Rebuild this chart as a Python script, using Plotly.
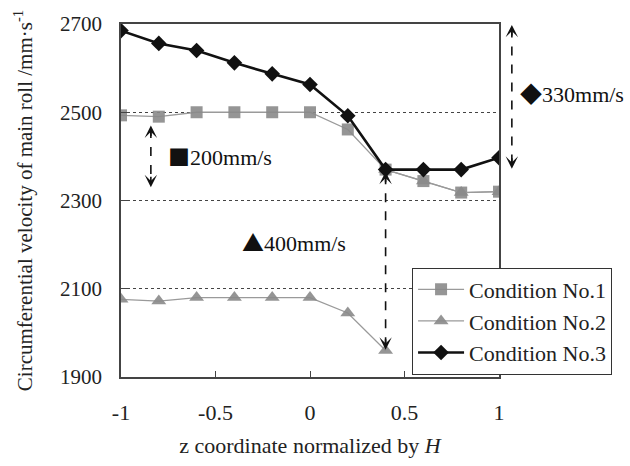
import plotly.graph_objects as go

# z coordinate normalised by H
z = [-1.0, -0.8, -0.6, -0.4, -0.2, 0.0, 0.2, 0.4, 0.6, 0.8, 1.0]

# circumferential velocity of main roll (mm/s)
cond1 = [2493, 2490, 2500, 2500, 2500, 2500, 2461, 2370, 2344, 2318, 2320]
cond2_z = [-1.0, -0.8, -0.6, -0.4, -0.2, 0.0, 0.2, 0.4, None, 0.4, 0.6, 0.8, 1.0]
cond2 = [2076, 2072, 2080, 2080, 2080, 2080, 2045, 1960, None, 2370, 2344, 2318, 2320]
cond3 = [2685, 2656, 2640, 2612, 2587, 2563, 2492, 2370, 2370, 2370, 2397]

y_ticks = [1900, 2100, 2300, 2500, 2700]
x_ticks = [-1, -0.5, 0, 0.5, 1]
x_tick_text = ["-1", "-0.5", "0", "0.5", "1"]

SERIF = "Liberation Serif"
SYM = "Noto Sans CJK JP"
GRAY = "#8a8a8a"
INK = "#111111"
X_RANGE = [-1, 1]


def to_paper_x(xv):
    return (xv - X_RANGE[0]) / (X_RANGE[1] - X_RANGE[0])


fig = go.Figure()
fig.add_trace(go.Scatter(
    x=z, y=cond1, name="Condition No.1", mode="lines+markers",
    line=dict(color="#9a9a9a", width=1.3),
    marker=dict(symbol="square", size=12, color=GRAY, opacity=0.9),
))
fig.add_trace(go.Scatter(
    x=cond2_z, y=cond2, name="Condition No.2", mode="lines+markers",
    line=dict(color="#9a9a9a", width=1.3),
    marker=dict(symbol="triangle-up", size=13, color=GRAY, opacity=0.9),
    connectgaps=False,
))
fig.add_trace(go.Scatter(
    x=z, y=cond3, name="Condition No.3", mode="lines+markers",
    line=dict(color=INK, width=2.6),
    marker=dict(symbol="diamond", size=12, color=INK),
))


# dashed double-headed arrows marking the velocity spreads
def spread_arrow(xv, y_top, y_bot):
    px = to_paper_x(xv)
    fig.add_shape(type="line", x0=px, x1=px, y0=y_top - 8, y1=y_bot + 8,
                  xref="paper", yref="y",
                  line=dict(color=INK, width=1.6, dash="dash"))
    for yv, ay in ((y_top, 12), (y_bot, -12)):
        fig.add_annotation(x=px, y=yv, xref="paper", yref="y", ax=0, ay=ay,
                           text="", showarrow=True, arrowhead=3, arrowsize=1.3,
                           arrowwidth=1.6, arrowcolor=INK)


spread_arrow(1.068, 2698, min(cond3) + 2)
spread_arrow(-0.842, 2470, 2330)
spread_arrow(0.4, cond1[7] - 5, cond2[7] + 2)


def spread_label(xv, yv, symbol, text):
    fig.add_annotation(
        x=to_paper_x(xv), y=yv, xref="paper", yref="y", showarrow=False,
        xanchor="left",
        text=f"<span style='font-family:\"{SYM}\"'>{symbol}</span>{text}",
        font=dict(family=SERIF, size=22, color=INK))


spread_label(1.098, 2546, "◆", "330mm/s")
spread_label(-0.764, 2403, "■", "200mm/s")
spread_label(-0.372, 2208, "▲", "400mm/s")

fig.update_layout(
    width=630, height=466,
    margin=dict(l=121, r=131, t=18, b=83),
    paper_bgcolor="white", plot_bgcolor="white",
    font=dict(family=SERIF, size=21, color="#222222"),
    showlegend=True,
    legend=dict(x=0.77, y=0.31, xanchor="left", yanchor="top",
                bgcolor="white", bordercolor="#333333", borderwidth=1,
                font=dict(family=SERIF, size=22, color="#222222"),
                itemwidth=46, tracegroupgap=0),
)
fig.update_xaxes(
    range=X_RANGE, tickvals=x_ticks, ticktext=x_tick_text,
    tickfont=dict(family=SERIF, size=22),
    showgrid=False, zeroline=False,
    showline=True, linecolor="#444444", linewidth=1.5, mirror=True,
    ticks="inside", ticklen=6, tickcolor="#444444", ticklabelstandoff=15,
    title=dict(text="z coordinate normalized by <i>H</i>", standoff=13,
               font=dict(family=SERIF, size=22)),
)
fig.update_yaxes(
    range=[1900, 2700], tickvals=y_ticks,
    tickfont=dict(family=SERIF, size=21),
    showgrid=True, gridcolor="#444444", griddash="dot", gridwidth=1,
    zeroline=False,
    showline=True, linecolor="#444444", linewidth=1.5, mirror=True,
    ticks="inside", ticklen=6, tickcolor="#444444", ticklabelstandoff=13,
    title=dict(text="Circumferential velocity of main roll /mm·s<sup>-1</sup>",
               standoff=22, font=dict(family=SERIF, size=21)),
)

fig.write_html("out.html")
